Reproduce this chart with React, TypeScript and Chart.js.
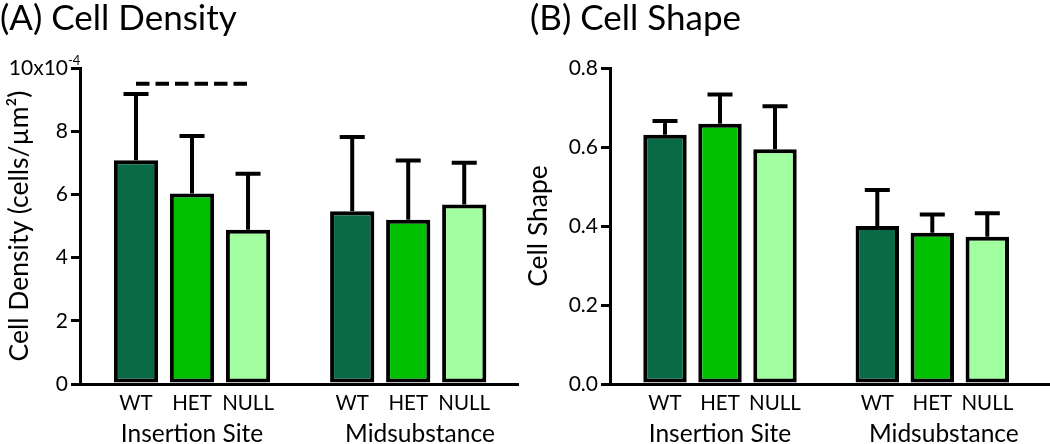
import React, { useEffect, useRef } from 'react';
import { Chart, registerables } from 'chart.js';

Chart.register(...registerables);

const FONT = 'Lato';

// Bars (shared by both panels)
const barLabels = ['WT', 'HET', 'NULL', 'WT', 'HET', 'NULL'];
const barSlots = [1, 2, 3, 4.86, 5.86, 6.86];
const barColors = ['#086b46', '#00c000', '#a2ffa0', '#086b46', '#00c000', '#a2ffa0'];
const groupLabels = ['Insertion Site', 'Midsubstance'];
const groupSlots = [2, 6.07];

// Panel A: cell density
const densityTitle = '(A) Cell Density';
const densityAxisTitle = 'Cell Density (cells/µm²)';
const densityMeans = [7.08, 6.03, 4.88, 5.47, 5.2, 5.68];
const densityErrors = [2.1, 1.82, 1.77, 2.35, 1.87, 1.32];
const densityTickValues = [0, 2, 4, 6, 8, 10];
const densityTickLabels = ['0', '2', '4', '6', '8', '10x10'];
const densityTickSups = ['', '', '', '', '', '-4'];
const densitySigSlots = [1, 3];
const densitySigLevel = 9.5;

// Panel B: cell shape
const shapeTitle = '(B) Cell Shape';
const shapeAxisTitle = 'Cell Shape';
const shapeMeans = [0.631, 0.659, 0.594, 0.4, 0.383, 0.373];
const shapeErrors = [0.035, 0.074, 0.109, 0.091, 0.046, 0.059];
const shapeTickValues = [0, 0.2, 0.4, 0.6, 0.8];
const shapeTickLabels = ['0.0', '0.2', '0.4', '0.6', '0.8'];
const shapeTickSups = ['', '', '', '', ''];

const errorBarPlugin = {
  id: 'errorBars',
  afterDatasetsDraw(chart: any, _args: any, opts: any) {
    const idx = chart.data.datasets.findIndex((d: any) => d.type === 'bar');
    const meta = chart.getDatasetMeta(idx);
    const y = chart.scales.y;
    const ctx = chart.ctx;
    ctx.save();
    ctx.strokeStyle = '#000';
    ctx.lineWidth = 4;
    ctx.lineCap = 'butt';
    meta.data.forEach((bar: any, i: number) => {
      const base = y.getPixelForValue(opts.means[i]);
      const top = y.getPixelForValue(opts.means[i] + opts.errors[i]);
      ctx.beginPath();
      ctx.moveTo(bar.x, base);
      ctx.lineTo(bar.x, top);
      ctx.moveTo(bar.x - 12.5, top);
      ctx.lineTo(bar.x + 12.5, top);
      ctx.stroke();
    });
    ctx.restore();
  },
};

const textPlugin = {
  id: 'panelTexts',
  afterDraw(chart: any, _args: any, opts: any) {
    const ctx = chart.ctx;
    const x = chart.scales.x;
    const y = chart.scales.y;
    ctx.save();
    ctx.fillStyle = '#000';
    ctx.textBaseline = 'alphabetic';
    ctx.font = `35px ${FONT}`;
    ctx.textAlign = 'left';
    ctx.fillText(opts.title, opts.titleX, 29.5);
    ctx.font = `24.5px ${FONT}`;
    ctx.textAlign = 'center';
    groupLabels.forEach((g, i) => {
      ctx.fillText(g, x.getPixelForValue(groupSlots[i]), 442);
    });
    // superscript exponents of tick labels
    ctx.font = `13px ${FONT}`;
    ctx.textAlign = 'left';
    opts.tickValues.forEach((v: number, i: number) => {
      const s = opts.sups[i];
      if (!s) return;
      ctx.fillText(s, y.right - 12, y.getPixelForValue(v) - 3);
    });
    ctx.restore();
  },
};

type PanelProps = {
  left: number;
  width: number;
  yWidth: number;
  padRight: number;
  xMax: number;
  yMax: number;
  means: number[];
  errors: number[];
  tickValues: number[];
  tickLabels: string[];
  tickSups: string[];
  axisTitle: string;
  axisTitlePad: number;
  title: string;
  titleX: number;
  sig?: boolean;
};

function Panel(p: PanelProps) {
  const ref = useRef<HTMLCanvasElement>(null);
  useEffect(() => {
    if (!ref.current) return;
    const datasets: any[] = [
      {
        type: 'bar',
        data: p.means.map((m, i) => ({ x: barSlots[i], y: m })),
        backgroundColor: barColors,
        borderColor: '#000',
        borderWidth: 4,
        borderSkipped: false,
        barPercentage: 1,
        categoryPercentage: 0.79,
        order: 2,
      },
    ];
    if (p.sig) {
      datasets.push({
        type: 'line',
        data: densitySigSlots.map((s) => ({ x: s, y: densitySigLevel })),
        borderColor: '#000',
        borderWidth: 4,
        borderDash: [13.5, 6],
        pointRadius: 0,
        fill: false,
        order: 1,
      });
    }
    const chart = new Chart(ref.current, {
      type: 'bar',
      data: { datasets },
      plugins: [errorBarPlugin, textPlugin],
      options: {
        animation: false,
        responsive: false,
        devicePixelRatio: 1,
        layout: { padding: { top: 68, left: 0, right: p.padRight, bottom: 0 } },
        plugins: {
          legend: { display: false },
          tooltip: { enabled: false },
          errorBars: { means: p.means, errors: p.errors },
          panelTexts: {
            title: p.title,
            titleX: p.titleX,
            tickValues: p.tickValues,
            sups: p.tickSups,
          },
        } as any,
        scales: {
          x: {
            type: 'linear',
            min: 0,
            max: p.xMax,
            offset: false,
            afterFit: (s: any) => {
              s.height = 60;
            },
            afterBuildTicks: (s: any) => {
              s.ticks = barSlots.map((v) => ({ value: v }));
            },
            ticks: {
              callback: (_v: any, i: number) => barLabels[i],
              color: '#000',
              font: { family: FONT, size: 20.5 },
              padding: 7,
              maxRotation: 0,
              autoSkip: false,
            },
            grid: { display: false, drawTicks: false, offset: false },
            border: { display: true, color: '#000', width: 3 },
          },
          y: {
            min: 0,
            max: p.yMax,
            afterFit: (s: any) => {
              s.width = p.yWidth;
            },
            afterBuildTicks: (s: any) => {
              s.ticks = p.tickValues.map((v) => ({ value: v }));
            },
            ticks: {
              callback: (_v: any, i: number) => p.tickLabels[i],
              color: '#000',
              font: { family: FONT, size: 21 },
              padding: 3,
            },
            grid: {
              drawOnChartArea: false,
              drawTicks: true,
              tickLength: 9,
              color: '#000',
              lineWidth: 3,
            },
            border: { display: true, color: '#000', width: 3 },
            title: {
              display: true,
              text: p.axisTitle,
              color: '#000',
              font: { family: FONT, size: 26.5 },
              padding: { top: p.axisTitlePad, bottom: 0 },
            },
          },
        } as any,
      },
    } as any);
    return () => chart.destroy();
  }, []);
  return (
    <canvas
      ref={ref}
      width={p.width}
      height={444}
      style={{ position: 'absolute', left: p.left, top: 0, width: p.width, height: 444 }}
    />
  );
}

export default function App() {
  return (
    <div style={{ position: 'fixed', left: 0, top: 0, width: 1050, height: 444, background: '#fff' }}>
      <Panel
        left={0}
        width={520}
        yWidth={80}
        padRight={2}
        xMax={7.82}
        yMax={10}
        means={densityMeans}
        errors={densityErrors}
        tickValues={densityTickValues}
        tickLabels={densityTickLabels}
        tickSups={densityTickSups}
        axisTitle={densityAxisTitle}
        axisTitlePad={3.5}
        title={densityTitle}
        titleX={0}
        sig
      />
      <Panel
        left={520}
        width={530}
        yWidth={90}
        padRight={0}
        xMax={8}
        yMax={0.8}
        means={shapeMeans}
        errors={shapeErrors}
        tickValues={shapeTickValues}
        tickLabels={shapeTickLabels}
        tickSups={shapeTickSups}
        axisTitle={shapeAxisTitle}
        axisTitlePad={2.5}
        title={shapeTitle}
        titleX={10}
      />
    </div>
  );
}
